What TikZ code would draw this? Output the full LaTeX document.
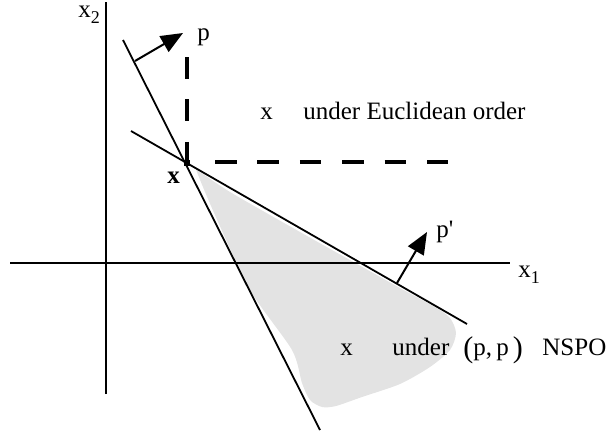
\documentclass[tikz,border=0pt]{standalone}
\usepackage{fontspec}
\setmainfont{Liberation Serif}
\usetikzlibrary{arrows.meta,positioning}

\newcommand{\sbs}[1]{\raisebox{-3pt}{\fontsize{9}{10}\selectfont #1}}
\newcommand{\bpar}[1]{\raisebox{-1pt}{\fontsize{15}{16}\selectfont #1}}

\begin{document}
\begin{tikzpicture}[x=0.5pt, y=-0.5pt,
    axis/.style={line width=1pt},
    bound/.style={line width=0.9pt},
    dsh/.style={line width=1.6pt, dash pattern=on 10.8pt off 10.4pt},
    arr/.style={line width=1pt, -{Triangle[length=11pt, width=9pt]}},
    txt/.style={inner sep=0pt, anchor=base west, font=\fontsize{12.5}{15}\selectfont},
    dot/.style={rectangle, fill=black, inner sep=0pt, minimum size=3pt}
  ]
  \useasboundingbox (0,0) rectangle (612,434);

  %% Shaded region (NSPO)
  \fill[black!11] plot[smooth cycle, tension=0.45] coordinates {
    (197,172) (215,215) (250,290) (292,350) (302,383) (310,400) (322,407)
    (336,406) (362,397) (400,384) (430,367) (450,350) (456,333) (450,318)
    (435,307) (400,288) (300,232) (230,192) (200,172)};

  %% Axes
  \coordinate (x1s) at (10,263);
  \coordinate (x1e) at (510,263);
  \coordinate (x2s) at (106,394);
  \coordinate (x2e) at (106,2);
  \draw[axis] (x1s) -- (x1e);
  \draw[axis] (x2s) -- (x2e);
  \node[txt] (x1l) at (518,277) {x\sbs{1}};
  \node[txt] (x2l) at (78,17) {x\sbs{2}};

  %% Point x and the two bounding lines
  \node[dot] (xpt) at (187,163) {};
  \node[txt, font=\fontsize{12.5}{15}\selectfont\bfseries] (xlab) at (167,183) {x};
  \coordinate (sa) at (123,40);
  \coordinate (sb) at (320,430);
  \coordinate (ta) at (131,131);
  \coordinate (tb) at (467,324);
  \draw[bound] (sa) -- (sb);
  \draw[bound] (ta) -- (tb);

  %% Euclidean cone (dashed)
  \coordinate (dv) at (187,57);
  \coordinate (dh0) at (215,162);
  \coordinate (dh) at (448,162);
  \draw[dsh] (dv) -- (xpt.center);
  \draw[dsh] (dh0) -- (dh);

  %% Normal vectors
  \coordinate (pt) at (135,61);
  \coordinate (ph) at (183,33);
  \coordinate (qt) at (397,283);
  \coordinate (qh) at (427,232);
  \draw[arr] (pt) -- (ph);
  \draw[arr] (qt) -- (qh);
  \node[txt] (plab) at (197,40) {p};
  \node[txt] (qlab) at (436,237) {p\textquotesingle};

  %% Region labels
  \node[txt] (ex) at (260,119) {x};
  \node[txt] (eu) at (303,119) {under Euclidean order};
  \node[txt] (nx) at (340,355) {x};
  \node[txt] (nu) at (392,355) {under};
  \node[txt] (npp) at (463,355) {\bpar{(}p,\,p\,\bpar{)}};
  \node[txt] (ns) at (542,355) {NSPO};

\end{tikzpicture}
\end{document}
